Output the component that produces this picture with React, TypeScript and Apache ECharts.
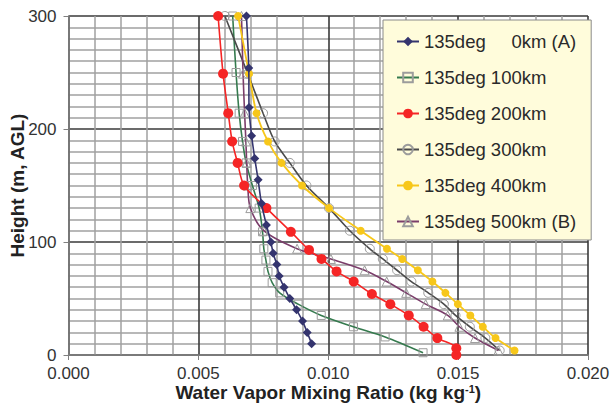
import React, { useEffect, useRef } from "react";
import * as echarts from "echarts";

// Heights (m, AGL)
const heightsA = [10, 20, 30, 40, 50, 60, 70, 80, 90, 100, 115, 134, 155, 174, 194, 219, 254, 300];
const heightsB = [4, 15, 25, 35, 45, 55, 65, 75, 85, 94, 110, 130, 150, 170, 189, 214, 249, 300];
const heightsGreen = [2, 16, 25, 35, 45, 55, 64, 74, 84, 94, 109, 130, 150, 170, 189, 214, 250, 300];
const heightsRed = [0, 6, 15, 25, 35, 45, 54, 65, 74, 85, 93, 109, 130, 150, 170, 189, 214, 249, 300];

// Water vapor mixing ratio (kg/kg)
const km0 = [0.00936, 0.00919, 0.00901, 0.00878, 0.00852, 0.0083, 0.00811, 0.00802, 0.00788, 0.00779, 0.00762, 0.00743, 0.0073, 0.00717, 0.00705, 0.00695, 0.00694, 0.00685];
const km100 = [0.01365, 0.01219, 0.01097, 0.00973, 0.00884, 0.00813, 0.00784, 0.00768, 0.0076, 0.00752, 0.00747, 0.00734, 0.00708, 0.00684, 0.0067, 0.00657, 0.00645, 0.00632];
const km200 = [0.01493, 0.01493, 0.0142, 0.01367, 0.0131, 0.01239, 0.01168, 0.01098, 0.01032, 0.00974, 0.00926, 0.00856, 0.00762, 0.00676, 0.00651, 0.0063, 0.00615, 0.00595, 0.00576];
const km300 = [0.0166, 0.01605, 0.01545, 0.0149, 0.01445, 0.01385, 0.0132, 0.01265, 0.0121, 0.0116, 0.01083, 0.01003, 0.00916, 0.00852, 0.00794, 0.00749, 0.0069, 0.00602];
const km400 = [0.01717, 0.01644, 0.01595, 0.01547, 0.01499, 0.01451, 0.01401, 0.01345, 0.01285, 0.01226, 0.01125, 0.01003, 0.00899, 0.0082, 0.00768, 0.00724, 0.00695, 0.00653];
const km500 = [0.01655, 0.01565, 0.01505, 0.0146, 0.01375, 0.013, 0.01225, 0.0114, 0.0101, 0.0088, 0.00752, 0.007, 0.0069, 0.00686, 0.00683, 0.00678, 0.00672, 0.00666];

const seriesNames = [
  "135deg\u00a0\u00a0\u00a0\u00a0\u00a00km (A)",
  "135deg 100km",
  "135deg 200km",
  "135deg 300km",
  "135deg 400km",
  "135deg 500km (B)",
];

const xTicks = ["0.000", "0.005", "0.010", "0.015", "0.020"];

const pair = (xs: number[], hs: number[]) => xs.map((v, i) => [v, hs[i]]);

export default function App() {
  const ref = useRef<HTMLDivElement>(null);
  useEffect(() => {
    if (!ref.current) return;
    const chart = echarts.init(ref.current, null, { renderer: "svg" });
    const font = "Liberation Sans, Arial, sans-serif";
    const hollow = { color: "rgba(0,0,0,0)", borderColor: "#9c9c9c", borderWidth: 1 };
    chart.setOption({
      animation: false,
      backgroundColor: "#ffffff",
      textStyle: { fontFamily: font },
      grid: { left: 68.5, right: 26, top: 16, bottom: 57, containLabel: false, outerBoundsMode: "none" },
      legend: {
        orient: "vertical",
        left: 383,
        top: 20,
        backgroundColor: "#FFFCDB",
        borderColor: "#8a8a8a",
        borderWidth: 1,
        padding: [12, 15, 9, 13],
        itemWidth: 22,
        itemHeight: 12,
        itemGap: 17,
        textStyle: { fontSize: 18.5, color: "#2a2a2a", fontFamily: font },
        data: seriesNames,
      },
      xAxis: {
        type: "value",
        min: 0,
        max: 0.02,
        interval: 0.005,
        axisLine: { show: true, lineStyle: { color: "#808080", width: 1.5 } },
        axisTick: { show: true, length: 5, lineStyle: { color: "#808080" } },
        axisLabel: {
          fontSize: 17,
          color: "#333",
          margin: 10,
          formatter: (v: number) => xTicks[Math.round(v / 0.005)] ?? "",
        },
        splitLine: { show: true, lineStyle: { color: "#3a3a3a", width: 1.6 } },
        minorTick: { show: false, splitNumber: 5 },
        minorSplitLine: { show: true, lineStyle: { color: "#a0a0a0", width: 1.5 } },
        name: "Water Vapor Mixing Ratio (kg kg{sup|-1})",
        nameLocation: "middle",
        nameGap: 28,
        nameMoveOverlap: false,
        nameTextStyle: {
          fontSize: 19,
          fontWeight: "bold",
          color: "#222",
          rich: { sup: { fontSize: 11, fontWeight: "bold", color: "#222", verticalAlign: "top", padding: [0, 0, 8, 0] } },
        },
      },
      yAxis: {
        type: "value",
        min: 0,
        max: 300,
        interval: 100,
        axisLine: { show: true, lineStyle: { color: "#808080", width: 1.5 } },
        axisTick: { show: true, length: 5, lineStyle: { color: "#808080" } },
        axisLabel: { fontSize: 17, color: "#333", margin: 12 },
        splitLine: { show: true, lineStyle: { color: "#3a3a3a", width: 1.6 } },
        minorTick: { show: false, splitNumber: 10 },
        minorSplitLine: { show: true, lineStyle: { color: "#a0a0a0", width: 1.5 } },
        name: "Height (m, AGL)",
        nameLocation: "middle",
        nameGap: 42,
        nameMoveOverlap: false,
        nameRotate: 90,
        nameTextStyle: { fontSize: 19, fontWeight: "bold", color: "#222" },
      },
      series: [
        {
          name: seriesNames[0],
          type: "line",
          smooth: 0.3,
          data: pair(km0, heightsA),
          symbol: "diamond",
          symbolSize: 9,
          lineStyle: { color: "#34346e", width: 1.6 },
          itemStyle: { color: "#34346e" },
          z: 6,
        },
        {
          name: seriesNames[1],
          type: "line",
          smooth: 0.3,
          data: pair(km100, heightsGreen),
          symbol: "rect",
          symbolSize: 8,
          lineStyle: { color: "#357a4e", width: 1.6 },
          itemStyle: hollow,
          z: 3,
        },
        {
          name: seriesNames[2],
          type: "line",
          smooth: 0.3,
          data: pair(km200, heightsRed),
          symbol: "circle",
          symbolSize: 10,
          lineStyle: { color: "#f52525", width: 1.6 },
          itemStyle: { color: "#f52525" },
          z: 5,
        },
        {
          name: seriesNames[3],
          type: "line",
          smooth: 0.3,
          data: pair(km300, heightsB),
          symbol: "circle",
          symbolSize: 9,
          lineStyle: { color: "#4a4a4a", width: 1.6 },
          itemStyle: hollow,
          z: 3,
        },
        {
          name: seriesNames[4],
          type: "line",
          smooth: 0.3,
          data: pair(km400, heightsB),
          symbol: "circle",
          symbolSize: 8,
          lineStyle: { color: "#f7c71a", width: 1.8 },
          itemStyle: { color: "#f7c71a" },
          z: 4,
        },
        {
          name: seriesNames[5],
          type: "line",
          smooth: 0.3,
          data: pair(km500, heightsB),
          symbol: "triangle",
          symbolSize: 9,
          lineStyle: { color: "#7a3d6a", width: 1.6 },
          itemStyle: hollow,
          z: 3,
        },
      ],
    });
    return () => chart.dispose();
  }, []);
  return (
    <div
      ref={ref}
      style={{ position: "absolute", left: 0, top: 0, width: 614, height: 412, background: "#fff" }}
    />
  );
}
